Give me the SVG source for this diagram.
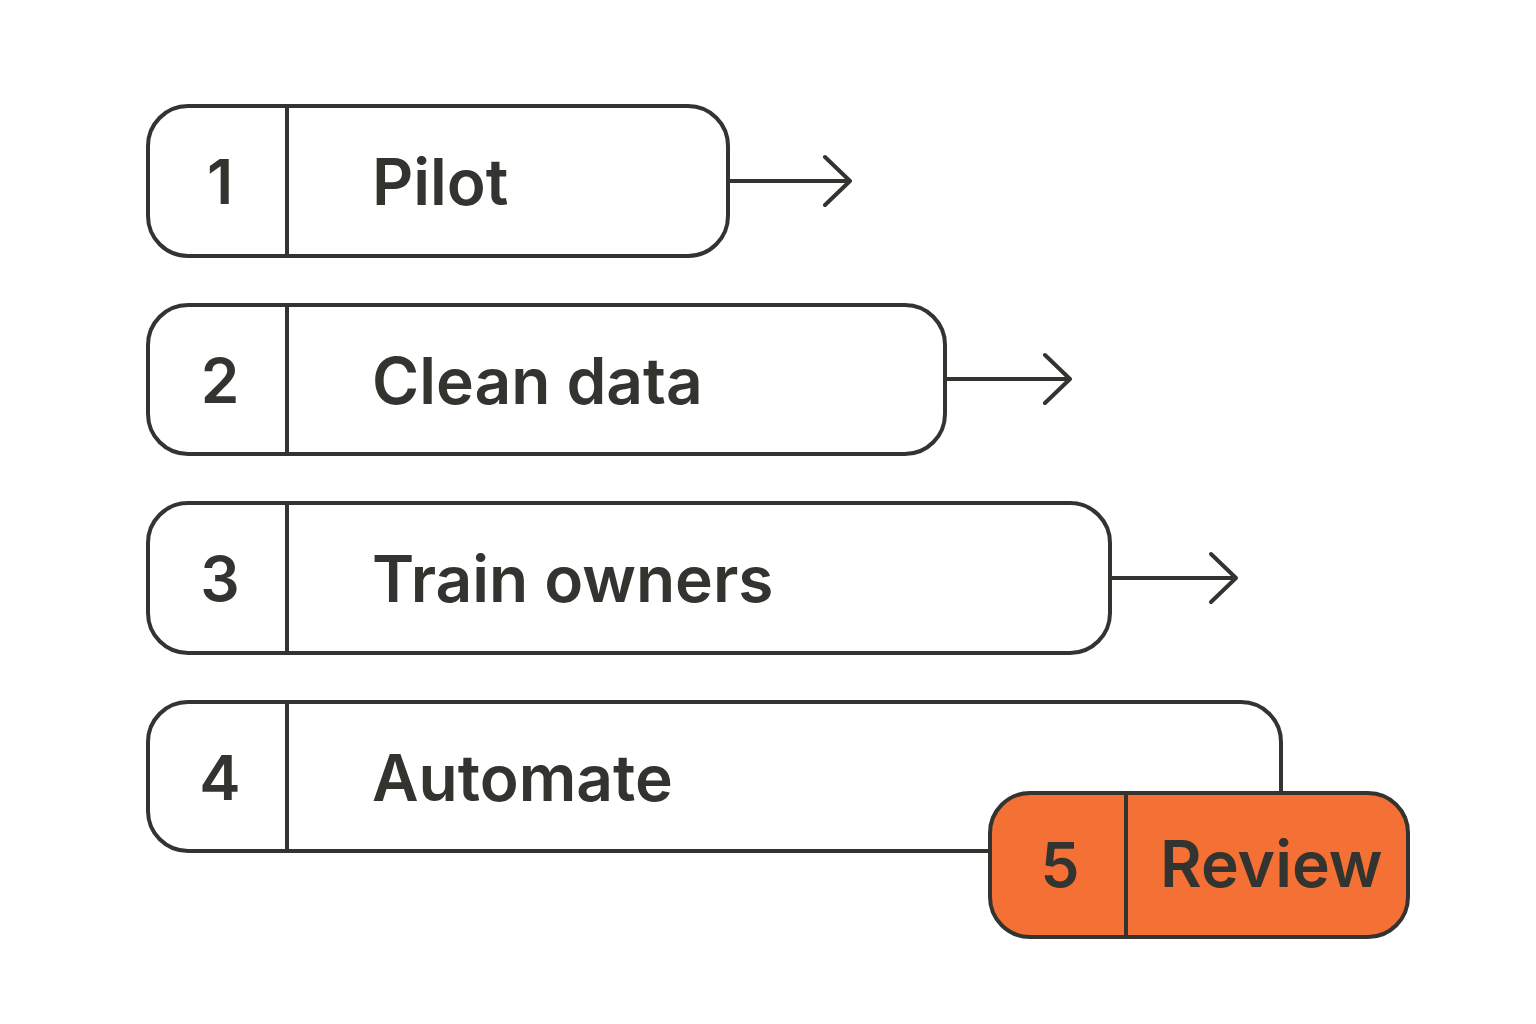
<svg xmlns="http://www.w3.org/2000/svg" width="1536" height="1024" viewBox="0 0 1536 1024">
<style>
.box{fill:#fff;stroke:#33332f;stroke-width:4}
.orange{fill:#f47035;stroke:#33332f;stroke-width:4}
.div{stroke:#33332f;stroke-width:4}
.num{font-family:Inter,"Liberation Sans",sans-serif;font-size:62px;font-weight:600;fill:#33332f;text-anchor:middle}
.lbl{font-family:Inter,"Liberation Sans",sans-serif;font-size:64px;font-weight:600;fill:#33332f}
.arr{fill:none;stroke:#33332f;stroke-width:4;stroke-linecap:round;stroke-linejoin:round}
</style>
<rect width="1536" height="1024" fill="#fff"/>
<g id="node1"><rect class="box" x="148" y="106" width="580" height="150" rx="40"/><line class="div" x1="287" y1="106" x2="287" y2="256"/><text class="num" x="220" y="204">1</text><text class="lbl" x="372" y="205">Pilot</text></g>
<g id="node2"><rect class="box" x="148" y="305" width="797" height="149" rx="40"/><line class="div" x1="287" y1="305" x2="287" y2="454"/><text class="num" x="220" y="403">2</text><text class="lbl" x="372" y="404">Clean data</text></g>
<g id="node3"><rect class="box" x="148" y="503" width="962" height="150" rx="40"/><line class="div" x1="287" y1="503" x2="287" y2="653"/><text class="num" x="220" y="601">3</text><text class="lbl" x="372" y="602">Train owners</text></g>
<g id="node4"><rect class="box" x="148" y="702" width="1133" height="149" rx="40"/><line class="div" x1="287" y1="702" x2="287" y2="851"/><text class="num" x="220" y="800">4</text><text class="lbl" x="372" y="801">Automate</text></g>
<g id="node5"><rect class="orange" x="990" y="793" width="418" height="144" rx="40"/><line class="div" x1="1126" y1="793" x2="1126" y2="937"/><text class="num" x="1060" y="887">5</text><text class="lbl" x="1160" y="887">Review</text></g>
<g id="connectors">
<path class="arr" d="M728 181H850M825 157L850 181L825 205"/>
<path class="arr" d="M945 379H1070M1045 355L1070 379L1045 403"/>
<path class="arr" d="M1110 578H1236M1211 554L1236 578L1211 602"/>
</g>
</svg>
